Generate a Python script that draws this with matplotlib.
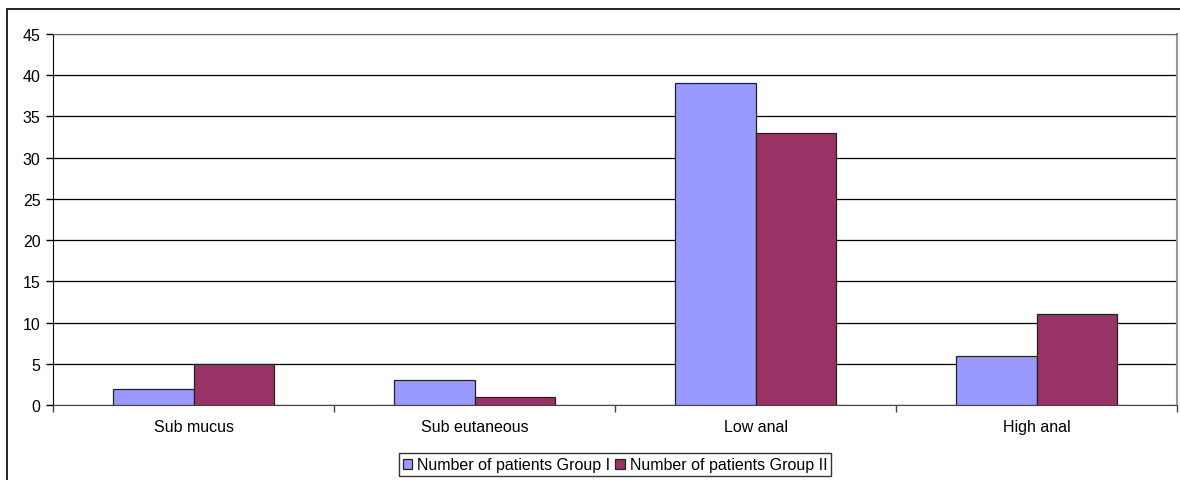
#!/usr/bin/env python3
"""Grouped bar chart: number of patients per fistula type, group I vs group II."""
import matplotlib

matplotlib.use("Agg")
import matplotlib.pyplot as plt
import numpy as np
from matplotlib.patches import Rectangle

categories = ["Sub mucus", "Sub eutaneous", "Low anal", "High anal"]
group_1 = [2, 3, 39, 6]
group_2 = [5, 1, 33, 11]
series_labels = ["Number of patients Group I", "Number of patients Group II"]
y_ticks = list(range(0, 50, 5))

plt.rcParams["font.family"] = ["Liberation Sans", "DejaVu Sans"]
FS = 11.5

W, H = 1180, 481
fig = plt.figure(figsize=(W / 100, H / 100), dpi=100)
ax = fig.add_axes([53 / W, 1 - 406 / H, (1177 - 53) / W, (406 - 35) / H])

# outer chart frame, running off the right and bottom edges
fig.patches.append(Rectangle((7 / W, -0.05), 1.2, 1 - 10 / H + 0.05,
                             transform=fig.transFigure, fill=False,
                             edgecolor="black", linewidth=1.2, zorder=0))

x = np.arange(len(categories))
bw = 0.285
ax.bar(x - bw / 2, group_1, bw, color="#9999FF", edgecolor="#222222",
       linewidth=0.9, label=series_labels[0], zorder=3)
ax.bar(x + bw / 2, group_2, bw, color="#993366", edgecolor="#222222",
       linewidth=0.9, label=series_labels[1], zorder=3)

ax.set_xlim(-0.5, len(categories) - 0.5)
ax.set_ylim(0, 45)
ax.set_yticks(y_ticks)
ax.tick_params(axis="y", labelsize=FS, length=5, width=1, pad=4, colors="black")
ax.yaxis.grid(True, color="black", linewidth=0.9, zorder=1)
ax.set_axisbelow(True)

# category labels centred, ticks on the category boundaries
ax.set_xticks(x)
ax.set_xticklabels(categories, fontsize=FS)
ax.tick_params(axis="x", length=0, pad=10)
ax.set_xticks(np.arange(-0.5, len(categories) + 0.5, 1.0), minor=True)
ax.tick_params(axis="x", which="minor", length=5, width=1, color="#444444")

ax.spines["top"].set_color("#666666")
ax.spines["right"].set_color("#999999")
ax.spines["right"].set_linewidth(1.5)
ax.spines["left"].set_color("black")
ax.spines["bottom"].set_color("#444444")

leg = ax.legend(loc="upper center", bbox_to_anchor=(0.5, -0.13), ncol=2,
                fontsize=FS, frameon=True, fancybox=False, edgecolor="black",
                handlelength=0.6, handleheight=0.6, handletextpad=0.3,
                columnspacing=0.3, borderpad=0.25, borderaxespad=0)
leg.get_frame().set_linewidth(1.0)

fig.savefig("out.png", dpi=100)
